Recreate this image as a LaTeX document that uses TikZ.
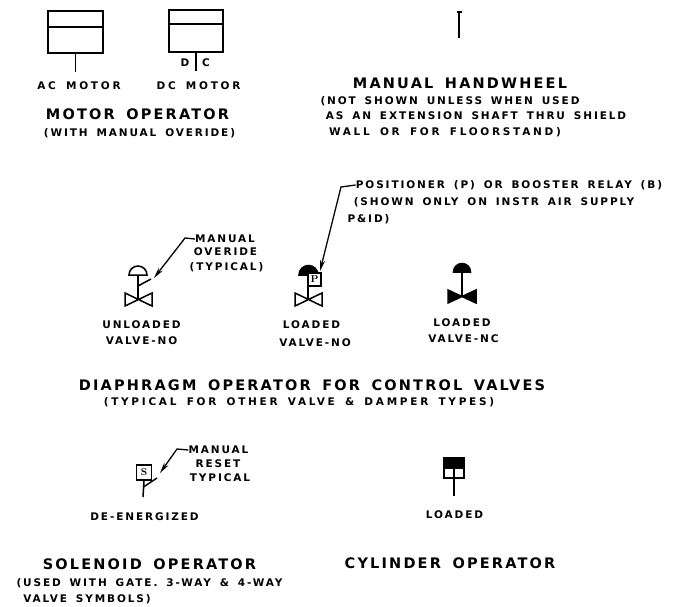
\documentclass[tikz,border=0pt]{standalone}
\usepackage{fontspec}
\usepackage{tikz}
\usetikzlibrary{arrows.meta}
\newfontfamily\labelfont{DejaVu Sans}[LetterSpace=18,WordSpace=1.6]
\newfontfamily\widefont{DejaVu Sans}[LetterSpace=26,WordSpace=1.6]
\newfontfamily\headfont{DejaVu Sans}[LetterSpace=15,WordSpace=1.6]
\tikzset{
  lbl/.style={font=\labelfont\bfseries\fontsize{10.5}{10.5}\selectfont,inner sep=0pt,text height=7.6pt,text depth=0pt},
  widelbl/.style={lbl,font=\widefont\bfseries\fontsize{10.5}{10.5}\selectfont},
  head/.style={font=\headfont\bfseries\fontsize{14.5}{14.5}\selectfont,inner sep=0pt,text height=10.6pt,text depth=0pt},
  line/.style={black,line width=1.5pt},
  leader/.style={black,line width=1.3pt,-{Stealth[length=11pt,width=5pt]}},
  opbox/.style={draw=black,line width=1.5pt,inner sep=0pt,minimum width=#1},
  tagbox/.style={draw=black,line width=1.4pt,inner sep=0pt,minimum size=#1,font=\bfseries\fontsize{10}{10}\selectfont}
}
\begin{document}
\begin{tikzpicture}[x=1pt,y=-1pt]
\useasboundingbox (0,0) rectangle (674,607);

\node[opbox=55pt,minimum height=42pt] (acbox) at (75.5,32) {};
\coordinate (acend) at (75.5,72);
\draw[line] (acbox.south)--(acend);
\draw[line] (48,27)--(103,27);
\node[opbox=54pt,minimum height=42pt] (dcbox) at (196,31) {};
\coordinate (dcend) at (196,71);
\draw[line] (dcbox.south)--(dcend);
\draw[line] (169,24)--(223,24);
\node[lbl] (dtag) at (185,63) {D};
\node[lbl] (ctag) at (206,63) {C};
\node[widelbl] (acmotor) at (79,86) {AC MOTOR};
\node[widelbl] (dcmotor) at (198.5,86) {DC MOTOR};
\node[head] (motorop) at (137.5,114) {MOTOR OPERATOR};
\node[lbl] (motornote) at (139.5,133) {(WITH MANUAL OVERIDE)};

\coordinate (wheeltop) at (459,12);
\coordinate (wheelend) at (459,38);
\draw[line] (wheeltop)--(wheelend);
\draw[line] (456.5,12)--(461.5,12);
\node[head] (handwheel) at (460,83) {MANUAL HANDWHEEL};
\node[lbl] (wheelnotea) at (450,101) {(NOT SHOWN UNLESS WHEN USED};
\node[lbl] (wheelnoteb) at (476,116) {AS AN EXTENSION SHAFT THRU SHIELD};
\node[widelbl] (wheelnotec) at (445,132) {WALL OR FOR FLOORSTAND)};

\coordinate (stema) at (138,275);
\coordinate (seata) at (138,299.5);
\draw[line] (129,275) arc[start angle=180,end angle=0,radius=9pt]--cycle;
\draw[line] (stema)--(seata);
\draw[line] (125,293)--(152,306)--(152,293)--(125,306)--cycle;
\draw[line] (138,286)--(151,279);
\node[lbl] (overa) at (225,239) {MANUAL};
\node[lbl] (overb) at (225.5,252) {OVERIDE};
\node[lbl] (overc) at (226.5,267) {(TYPICAL)};
\coordinate (overbend) at (185,238);
\coordinate (overtip) at (154,278);
\draw[leader] (overa.west)--(overbend)--(overtip);
\node[lbl] (unloaded) at (141.5,325) {UNLOADED};
\node[lbl] (valvea) at (141.5,341) {VALVE-NO};

\coordinate (stemb) at (308,272);
\coordinate (seatb) at (308,299.5);
\draw[line,fill=black] (299,275) arc[start angle=180,end angle=0,radius=9.5pt]--cycle;
\draw[line] (stemb)--(seatb);
\draw[line] (295,293)--(322,306)--(322,293)--(295,306)--cycle;
\node[tagbox=13pt,fill=white] (ptag) at (314.5,279.5) {P};
\node[lbl] (posa) at (509,185) {POSITIONER (P) OR BOOSTER RELAY (B)};
\node[lbl] (posb) at (494,202) {(SHOWN ONLY ON INSTR AIR SUPPLY};
\node[lbl] (posc) at (368.5,219) {P\&ID)};
\coordinate (posbend) at (341,187);
\coordinate (postip) at (320,271);
\draw[leader] (posa.west)--(posbend)--(postip);
\node[lbl] (loadeda) at (311.5,325) {LOADED};
\node[lbl] (valveb) at (315,343) {VALVE-NO};

\coordinate (stemc) at (462,272);
\coordinate (seatc) at (462,296.5);
\draw[line,fill=black] (453.5,272) arc[start angle=180,end angle=0,radius=8.5pt]--cycle;
\draw[line] (stemc)--(seatc);
\draw[line,fill=black] (448,290)--(476,303)--(476,290)--(448,303)--cycle;
\node[lbl] (loadedb) at (462,323) {LOADED};
\node[lbl] (valvec) at (463.5,339) {VALVE-NC};

\node[head] (diaphragm) at (312,385) {DIAPHRAGM OPERATOR FOR CONTROL VALVES};
\node[widelbl] (diaphnote) at (299,402) {(TYPICAL FOR OTHER VALVE \& DAMPER TYPES)};

\node[tagbox=15pt] (soltag) at (144,472.5) {S};
\coordinate (solend) at (143,497);
\draw[line] (soltag.south)--(solend);
\draw[line] (143.5,487)--(157,478);
\node[lbl] (reseta) at (218.5,450) {MANUAL};
\node[lbl] (resetb) at (218,464) {RESET};
\node[lbl] (resetc) at (220,478) {TYPICAL};
\coordinate (resetbend) at (177,449);
\coordinate (resettip) at (160,473);
\draw[leader] (reseta.west)--(resetbend)--(resettip);
\node[lbl] (deenergized) at (144.5,517) {DE-ENERGIZED};

\node[opbox=20pt,minimum height=20pt] (cylbox) at (454,468) {};
\fill[black] (cylbox.north west) rectangle (464,468);
\draw[line] (444,468)--(464,468);
\coordinate (cylend) at (454,496);
\draw[line] (454,468)--(cylend);
\node[lbl] (loadedc) at (454.5,515) {LOADED};

\node[head] (solenoid) at (149.5,564) {SOLENOID OPERATOR};
\node[head] (cylinder) at (450,563) {CYLINDER OPERATOR};
\node[lbl] (solnotea) at (149.5,583) {(USED WITH GATE. 3-WAY \& 4-WAY};
\node[lbl] (solnoteb) at (87,599) {VALVE SYMBOLS)};

\end{tikzpicture}
\end{document}
